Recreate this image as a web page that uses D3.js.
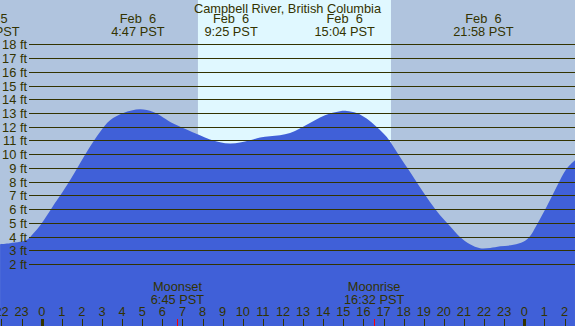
<!DOCTYPE html>
<html>
<head>
<meta charset="utf-8">
<script src="https://cdn.jsdelivr.net/npm/d3@7"></script>
<style>
html,body{margin:0;padding:0;background:#b0c4de;overflow:hidden;}
svg{display:block;}
text{font-family:"Liberation Sans",Arial,sans-serif;font-size:12.8px;fill:#333300;}
</style>
</head>
<body>
<script>
// ---- data ----
const title = "Campbell River, British Columbia";
// tide curve: hours relative to Feb 6 00:00 PST, height in ft
const tideHours = [-2.07,-1.58,-1.08,-0.73,-0.42,-0.08,0.25,0.58,0.91,1.41,1.90,2.40,2.90,3.40,4.06,4.89,5.55,6.54,7.37,7.87,8.37,8.87,9.37,9.86,10.36,10.86,11.35,11.85,12.35,12.84,13.34,13.84,14.34,14.83,15.17,15.66,16.16,16.66,17.16,17.82,18.32,18.82,19.31,19.81,20.31,20.80,21.30,21.80,22.30,22.80,23.46,23.95,24.28,24.61,25.11,25.61,26.11,26.52];
const tideFeet  = [3.48,3.55,3.65,3.80,4.25,4.85,5.55,6.30,7.00,8.14,9.36,10.57,11.66,12.51,13.04,13.31,13.11,12.27,11.73,11.42,11.10,10.91,10.81,10.88,11.05,11.25,11.34,11.42,11.58,11.90,12.31,12.71,13.00,13.17,13.19,13.04,12.63,12.02,11.29,9.84,8.74,7.61,6.56,5.59,4.79,4.01,3.48,3.19,3.21,3.33,3.43,3.65,4.06,4.86,6.20,7.66,8.99,9.60];
// tide events (labels at top)
const eventHours = [-2.60, 4.783, 9.417, 15.067, 21.967];
const eventDates = ["Feb  5","Feb  6","Feb  6","Feb  6","Feb  6"];
const eventTimes = ["21:24 PST","4:47 PST","9:25 PST","15:04 PST","21:58 PST"];
// moon events
const moonHours = [6.75, 16.533];
const moonNames = ["Moonset","Moonrise"];
const moonTimes = ["6:45 PST","16:32 PST"];
// daylight
const sunriseHour = 7.77, sunsetHour = 17.37;
// axis ticks
const feetTicks = d3.range(2, 19);
const hourTicks = d3.range(-2, 27);

// ---- drawing ----
const W = 575, H = 326;
const svg = d3.select("body").append("svg").attr("width", W).attr("height", H);
const x = d3.scaleLinear().domain([0, 24]).range([41.7, 524.3]);
const y = d3.scaleLinear().domain([2, 18]).range([264.5, 44.86]);

svg.append("rect").attr("x",0).attr("y",0).attr("width",W).attr("height",H).attr("fill","#b0c4de");
svg.append("rect").attr("x",x(sunriseHour)).attr("y",0)
  .attr("width",x(sunsetHour)-x(sunriseHour)).attr("height",H).attr("fill","#e0f8ff");

const pts = tideHours.map((h,i)=>[h,tideFeet[i]]);
const area = d3.area().x(d=>x(d[0])).y0(H).y1(d=>y(d[1])).curve(d3.curveCatmullRom.alpha(0.5));
svg.append("path").datum(pts).attr("d",area).attr("fill","#4060d8");

// grid lines
svg.append("g").selectAll("line").data(feetTicks).join("line")
  .attr("x1",29).attr("x2",W)
  .attr("y1",d=>Math.floor(y(d))+0.5).attr("y2",d=>Math.floor(y(d))+0.5)
  .attr("stroke","#333300").attr("stroke-width",1);
svg.append("g").selectAll("text").data(feetTicks).join("text")
  .attr("x",27).attr("y",d=>Math.floor(y(d))+0.5+4.6)
  .attr("text-anchor","end").text(d=>d+" ft");

// title
svg.append("text").attr("x",287.5).attr("y",12.5).attr("text-anchor","middle").text(title);

// tide event labels
const ev = svg.append("g").selectAll("g").data(eventHours).join("g");
ev.append("text").attr("x",d=>x(d)).attr("y",23.3).attr("text-anchor","middle")
  .attr("xml:space","preserve").style("white-space","pre").text((d,i)=>eventDates[i]);
ev.append("text").attr("x",d=>x(d)).attr("y",36).attr("text-anchor","middle").text((d,i)=>eventTimes[i]);

// moon labels
const mv = svg.append("g").selectAll("g").data(moonHours).join("g");
mv.append("text").attr("x",d=>x(d)).attr("y",291).attr("text-anchor","middle").text((d,i)=>moonNames[i]);
mv.append("text").attr("x",d=>x(d)).attr("y",303.5).attr("text-anchor","middle").text((d,i)=>moonTimes[i]);

// hour axis
const axisG = svg.append("g");
axisG.selectAll("line").data(hourTicks).join("line")
  .attr("x1",d=>Math.round(x(d))+0.5).attr("x2",d=>Math.round(x(d))+0.5)
  .attr("y1",319).attr("y2",H)
  .attr("stroke","#333300").attr("stroke-width",d=>(((d%24)+24)%24)===0?3:1);
axisG.selectAll("text").data(hourTicks).join("text")
  .attr("x",d=>x(d)).attr("y",316).attr("text-anchor","middle")
  .text(d=>((d%24)+24)%24);
svg.append("g").selectAll("line").data(moonHours).join("line")
  .attr("x1",d=>Math.round(x(d))+0.5).attr("x2",d=>Math.round(x(d))+0.5)
  .attr("y1",319).attr("y2",H).attr("stroke","#ff0000").attr("stroke-width",1);
</script>
</body>
</html>
